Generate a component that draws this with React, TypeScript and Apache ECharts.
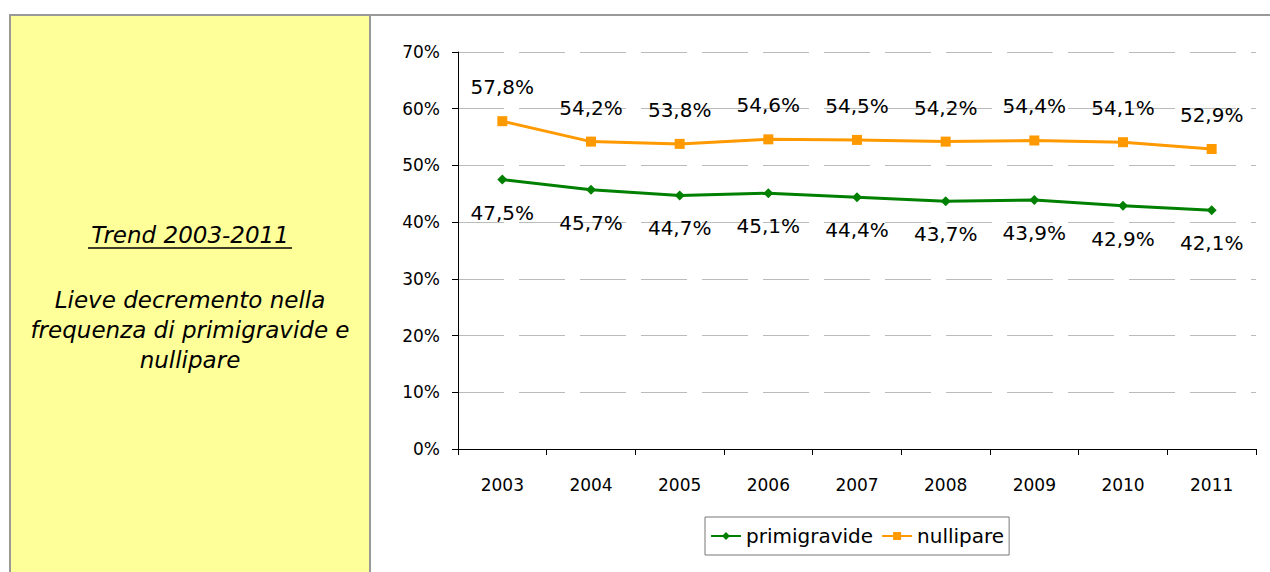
import React, { useEffect, useRef } from "react";
import * as echarts from "echarts";

const years = ["2003", "2004", "2005", "2006", "2007", "2008", "2009", "2010", "2011"];
const primigravide = [47.5, 45.7, 44.7, 45.1, 44.4, 43.7, 43.9, 42.9, 42.1];
const nullipare = [57.8, 54.2, 53.8, 54.6, 54.5, 54.2, 54.4, 54.1, 52.9];
const panelTitle = "Trend 2003-2011";
const panelLines = ["Lieve decremento nella", "frequenza di primigravide e", "nullipare"];

const fmt = (v: number) => v.toFixed(1).replace(".", ",") + "%";

export default function App() {
  const ref = useRef<HTMLDivElement>(null);
  useEffect(() => {
    if (!ref.current) return;
    const chart = echarts.init(ref.current, undefined, { renderer: "svg" });
    const panelFont = "DejaVu Sans";
    chart.setOption({
      animation: false,
      backgroundColor: "#ffffff",
      graphic: [
        {
          type: "rect",
          shape: { x: 10, y: 15, width: 360, height: 600 },
          style: { fill: "#FFFF99", stroke: "#999999", lineWidth: 2 },
          z: -1,
        },
        {
          type: "line",
          shape: { x1: 370, y1: 15, x2: 1270, y2: 15 },
          style: { stroke: "#999999", lineWidth: 2 },
        },
        {
          type: "text",
          x: 190,
          y: 235,
          style: {
            text: panelTitle,
            font: `italic 23px "${panelFont}"`,
            fill: "#000",
            align: "center",
            verticalAlign: "middle",
          },
        },
        {
          type: "line",
          shape: { x1: 88, y1: 248, x2: 292, y2: 248 },
          style: { stroke: "#000", lineWidth: 1.5 },
        },
        ...panelLines.map((t, i) => ({
          type: "text",
          x: 190,
          y: 300 + i * 30,
          style: {
            text: t,
            font: `italic 23px "${panelFont}"`,
            fill: "#000",
            align: "center",
            verticalAlign: "middle",
          },
        })),
      ],
      grid: { left: 458, right: 14, top: 52, bottom: 123, containLabel: false },
      legend: {
        bottom: 17,
        left: 705,
        itemWidth: 30,
        itemHeight: 10,
        itemGap: 8,
        padding: [9, 5, 9, 5],
        borderColor: "#777777",
        borderWidth: 1,
        textStyle: { fontFamily: "DejaVu Sans", fontSize: 20, color: "#000" },
        data: ["primigravide", "nullipare"],
      },
      xAxis: {
        type: "category",
        data: years,
        boundaryGap: true,
        axisLine: { lineStyle: { color: "#000", width: 1 } },
        axisTick: { show: true, inside: false, length: 6, interval: 0, lineStyle: { color: "#000" } },
        axisLabel: { margin: 27, fontFamily: "DejaVu Sans", fontSize: 17, color: "#000" },
      },
      yAxis: {
        type: "value",
        min: 0,
        max: 70,
        interval: 10,
        axisLine: { show: true, lineStyle: { color: "#000", width: 1 } },
        axisTick: { show: true, length: 6, lineStyle: { color: "#000" } },
        axisLabel: {
          formatter: "{value}%",
          margin: 18,
          fontFamily: "DejaVu Sans",
          fontSize: 17,
          color: "#000",
        },
        splitLine: { lineStyle: { color: "#BBBBBB", type: [46, 15], width: 1 } },
      },
      series: [
        {
          name: "primigravide",
          type: "line",
          data: primigravide,
          color: "#008000",
          lineStyle: { width: 3, color: "#008000" },
          symbol: "diamond",
          symbolSize: 10,
          itemStyle: { color: "#008000" },
          label: {
            show: true,
            position: "bottom",
            distance: 18,
            formatter: (p: any) => fmt(p.value),
            fontFamily: "DejaVu Sans",
            fontSize: 20,
            color: "#000",
          },
        },
        {
          name: "nullipare",
          type: "line",
          data: nullipare,
          color: "#FF9900",
          lineStyle: { width: 3, color: "#FF9900" },
          symbol: "rect",
          symbolSize: 10,
          itemStyle: { color: "#FF9900" },
          label: {
            show: true,
            position: "top",
            distance: 19,
            formatter: (p: any) => fmt(p.value),
            fontFamily: "DejaVu Sans",
            fontSize: 20,
            color: "#000",
          },
        },
      ],
    });
    return () => chart.dispose();
  }, []);
  return (
    <div
      ref={ref}
      style={{ position: "absolute", left: 0, top: 0, width: 1270, height: 572 }}
    />
  );
}
